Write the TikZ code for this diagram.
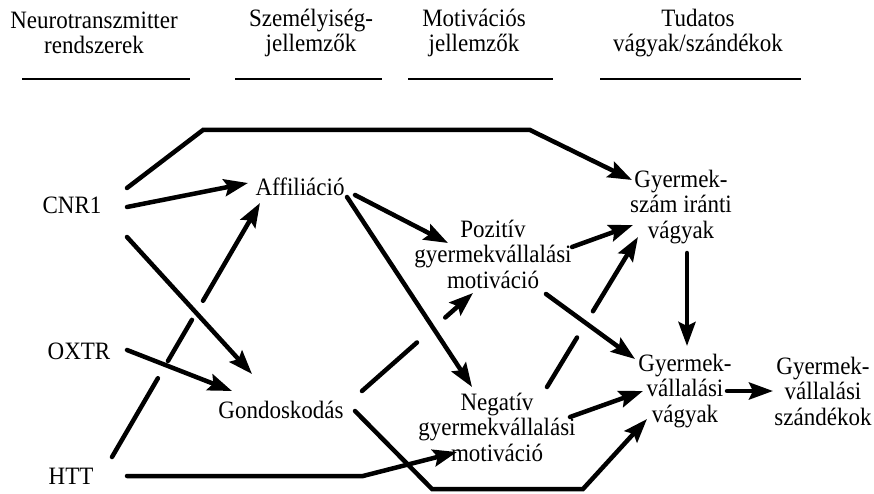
\documentclass[tikz,border=0pt]{standalone}
\usepackage{fontspec}
\setmainfont[FakeStretch=0.92]{Liberation Serif}
\usetikzlibrary{arrows.meta,calc}

\begin{document}
\begin{tikzpicture}[x=1pt,y=1pt,yscale=-1,
		lbl/.style={font=\fontsize{25}{25.5}\selectfont, align=center, inner sep=0pt},
		link/.style={line width=4.5pt, line cap=round},
		arr/.style={link, -{Stealth[length=24pt,width=17pt,inset=4pt]}},
		rule/.style={line width=1.3pt}]
		% Set diagram size: 874 x 494
		\useasboundingbox (0,0) rectangle (874,494);

		% Column headings and the rules below them
		\node[lbl] (neuro) at (94,33) {Neurotranszmitter\\rendszerek};
		\node[lbl] (szemely) at (311,33) {Személyiség-\\jellemzők};
		\node[lbl] (motiv) at (474,33) {Motivációs\\jellemzők};
		\node[lbl] (tudatos) at (698,33) {Tudatos\\vágyak/szándékok};
		\draw[rule] (22,79) -- (190,79);
		\draw[rule] (235,79) -- (382,79);
		\draw[rule] (408,79) -- (553,79);
		\draw[rule] (600,79) -- (801,79);

		% Neurotransmitter systems
		\node[lbl] (cnr) at (72,205) {CNR1};
		\node[lbl] (oxtr) at (79,351) {OXTR};
		\node[lbl] (htt) at (71,476) {HTT};

		% Personality traits
		\node[lbl] (affil) at (300,187) {Affiliáció};
		\node[lbl] (gond) at (281,410) {Gondoskodás};

		% Motivations
		\node[lbl] (poz) at (493,254) {Pozitív\\gyermekvállalási\\motiváció};
		\node[lbl] (neg) at (497,427) {Negatív\\gyermekvállalási\\motiváció};

		% Desires and intentions
		\node[lbl] (gysz) at (681,207) {Gyermek-\\szám iránti\\vágyak};
		\node[lbl] (gyv) at (685,391) {Gyermek-\\vállalási\\vágyak};
		\node[lbl] (szand) at (823,391) {Gyermek-\\vállalási\\szándékok};

		% CNR1 over the top to Gyermekszám
		\coordinate (topl) at (203,130);
		\coordinate (topr) at (530,130);
		\draw[arr] ($(cnr)+(55,-17)$) -- (topl) -- (topr) -- ($(gysz)+(-49,-27)$);

		% CNR1 and OXTR arrows
		\draw[arr] ($(cnr)+(55,2)$) -- ($(affil)+(-52,-4)$);
		\draw[arr] ($(cnr)+(55,32)$) -- ($(gond)+(-29,-36)$);
		\draw[arr] ($(oxtr)+(48,-1)$) -- ($(gond)+(-49,-19)$);

		% HTT to Affiliáció, broken where it passes under two arrows
		\coordinate (htt-n) at ($(htt)+(41,-19)$);
		\coordinate (affil-s) at ($(affil)+(-40,16)$);
		\draw[link] (htt-n) -- ($(htt-n)!0.31!(affil-s)$);
		\draw[link] ($(htt-n)!0.378!(affil-s)$) -- ($(htt-n)!0.54!(affil-s)$);
		\draw[arr] ($(htt-n)!0.615!(affil-s)$) -- (affil-s);

		% HTT along the bottom to Negatív
		\coordinate (httbend) at (363,476);
		\draw[arr] ($(htt)+(56,0)$) -- (httbend) -- ($(neg)+(-40,25)$);

		% Affiliáció arrows
		\draw[arr] ($(affil)+(55,8)$) -- ($(poz)+(-45,-11)$);
		\draw[arr] ($(affil)+(47,10)$) -- ($(neg)+(-25,-40)$);

		% Gondoskodás to Pozitív, broken under the Affiliáció arrow
		\coordinate (gond-ne) at ($(gond)+(81,-19)$);
		\coordinate (poz-sw) at ($(poz)+(-20,39)$);
		\draw[link] (gond-ne) -- ($(gond-ne)!0.495!(poz-sw)$);
		\draw[arr] ($(gond-ne)!0.75!(poz-sw)$) -- (poz-sw);

		% Gondoskodás along the bottom to Gyermekvállalási vágyak
		\coordinate (botl) at (432,489);
		\coordinate (botr) at (583,489);
		\draw[arr] ($(gond)+(74,1)$) -- (botl) -- (botr) -- ($(gyv)+(-38,28)$);

		% Motivation arrows
		\draw[arr] ($(poz)+(79,-7)$) -- ($(gysz)+(-48,18)$);
		\draw[arr] ($(poz)+(53,40)$) -- ($(gyv)+(-50,-32)$);
		\draw[arr] ($(neg)+(73,-10)$) -- ($(gyv)+(-42,0)$);

		% Negatív to Gyermekszám, broken under the Pozitív arrow
		\coordinate (neg-ne) at ($(neg)+(50,-40)$);
		\coordinate (gysz-sw) at ($(gysz)+(-43,30)$);
		\draw[link] (neg-ne) -- ($(neg-ne)!0.33!(gysz-sw)$);
		\draw[arr] ($(neg-ne)!0.505!(gysz-sw)$) -- (gysz-sw);

		% Desires to intentions
		\draw[arr] ($(gysz)+(6,46)$) -- ($(gyv)+(2,-45)$);
		\draw[arr] ($(gyv)+(42,0)$) -- ($(szand)+(-50,0)$);
	\end{tikzpicture}
\end{document}
